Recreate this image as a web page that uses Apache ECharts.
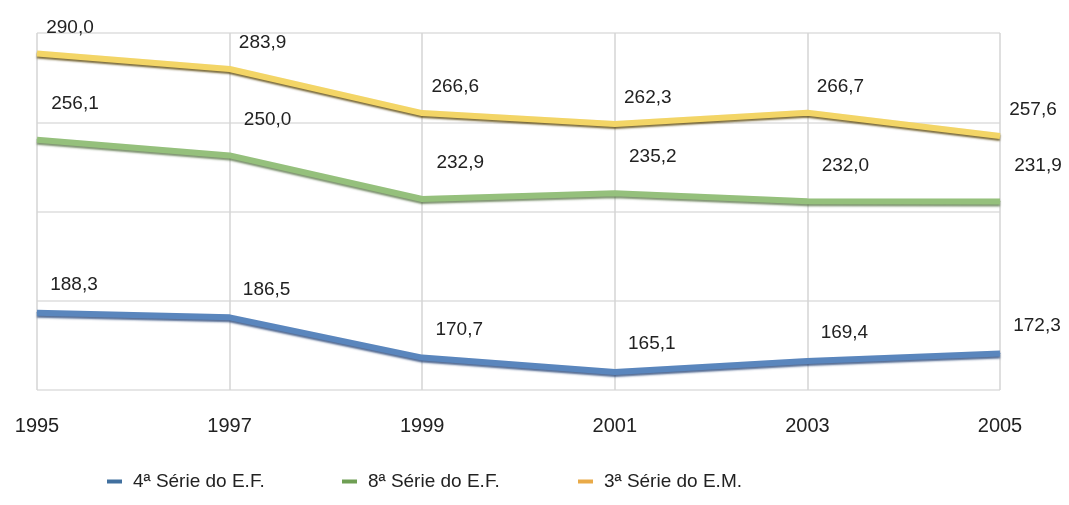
<!DOCTYPE html>
<html>
<head>
<meta charset="utf-8">
<script src="https://cdn.jsdelivr.net/npm/echarts@6/dist/echarts.min.js"></script>
<style>
  html, body { margin: 0; padding: 0; background: #fff; }
  #chart { width: 1069px; height: 505px; }
</style>
</head>
<body>
<div id="chart"></div>
<script>
// anos
const years = ["1995", "1997", "1999", "2001", "2003", "2005"];
// séries
const serie4EF = [188.3, 186.5, 170.7, 165.1, 169.4, 172.3];
const serie8EF = [256.1, 250.0, 232.9, 235.2, 232.0, 231.9];
const serie3EM = [290.0, 283.9, 266.6, 262.3, 266.7, 257.6];
const seriesNames = ["4ª Série do E.F.", "8ª Série do E.F.", "3ª Série do E.M."];

const chart = echarts.init(document.getElementById("chart"));
const font = "Liberation Sans, Arial, sans-serif";

// rótulo com vírgula decimal
const fmt = (p) => p.value.toFixed(1).replace(".", ",");

const makeSerie = (name, data, color, legendColor, shadow, offX, offY) => ({
  name: name,
  type: "line",
  data: data,
  symbol: "circle",
  symbolSize: 1,
  showSymbol: true,
  itemStyle: { color: color },
  lineStyle: {
    color: color,
    width: 6,
    shadowColor: shadow,
    shadowOffsetY: 2,
    shadowBlur: 2,
  },
  label: {
    show: true,
    position: "top",
    offset: [offX, offY],
    formatter: fmt,
    fontFamily: font,
    fontSize: 19,
    color: "#222",
  },
  emphasis: { disabled: true },
});

const legendBase = {
  icon: "rect",
  itemWidth: 15,
  itemHeight: 4,
  top: 467,
  textStyle: { fontFamily: font, fontSize: 19, color: "#222", padding: [0, 0, 0, 6] },
};
const legendColors = ["#41709f", "#6f9f54", "#e9aa48"];
const legendItem = (i) => ({ name: seriesNames[i], itemStyle: { color: legendColors[i] } });

const option = {
  animation: false,
  grid: { left: 37, right: 69, top: 33, bottom: 115 },
  legend: [
    Object.assign({ left: 102, data: [legendItem(0)] }, legendBase),
    Object.assign({ left: 337, data: [legendItem(1)] }, legendBase),
    Object.assign({ left: 573, data: [legendItem(2)] }, legendBase),
  ],
  xAxis: {
    type: "category",
    data: years,
    boundaryGap: false,
    axisLine: { show: false },
    axisTick: { show: false },
    axisLabel: {
      margin: 26,
      fontFamily: font,
      fontSize: 20,
      color: "#222",
    },
    splitLine: { show: true, lineStyle: { color: "#d4d4d4", width: 1.5 } },
  },
  yAxis: {
    type: "value",
    min: 158,
    max: 298,
    interval: 35,
    axisLine: { show: false },
    axisTick: { show: false },
    axisLabel: { show: false },
    splitLine: { show: true, lineStyle: { color: "#dedede", width: 1.5 } },
  },
  series: [
    makeSerie(seriesNames[0], serie4EF, "#5a86bd", legendColors[0], "rgba(40,70,120,0.8)", 37, -13),
    makeSerie(seriesNames[1], serie8EF, "#95c07c", legendColors[1], "rgba(70,100,50,0.7)", 38, -21),
    makeSerie(seriesNames[2], serie3EM, "#f3d566", legendColors[2], "rgba(90,70,10,0.8)", 33, -11),
  ],
};
chart.setOption(option);
</script>
</body>
</html>
